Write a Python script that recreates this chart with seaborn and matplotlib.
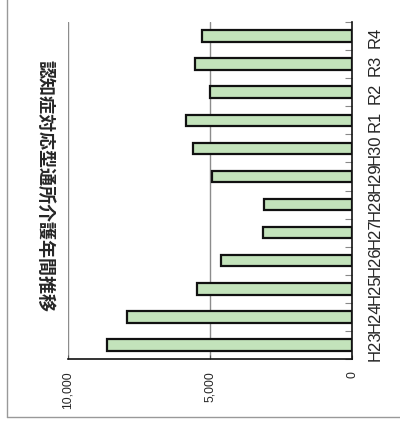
import matplotlib
matplotlib.use("Agg")
import matplotlib.pyplot as plt
import matplotlib.ticker as mticker
from matplotlib.lines import Line2D
import seaborn as sns
import pandas as pd

categories = ["H23", "H24", "H25", "H26", "H27", "H28", "H29", "H30", "R1", "R2", "R3", "R4"]
values = [8636, 7913, 5465, 4626, 3147, 3112, 4930, 5605, 5839, 4986, 5524, 5266]
value_ticks = [0, 5000, 10000]
title = "認知症対応型通所介護年間推移"

sns.set_theme(style="white")
plt.rcParams["font.family"] = ["Liberation Sans", "DejaVu Sans"]

df = pd.DataFrame({"year": categories, "count": values})

fig = plt.figure(figsize=(4.0, 4.27), dpi=100)
ax = fig.add_axes([68 / 400, 1 - 360 / 427, (352 - 68) / 400, (360 - 23) / 427])

sns.barplot(data=df, x="count", y="year", order=categories[::-1], orient="h",
            width=0.41, color="#c3e3bb", edgecolor="#111111", linewidth=1.6,
            saturation=1, ax=ax)

ax.set_xlim(10000, 0)
ax.set_ylim(len(categories) - 0.5, -0.5)
ax.set_xticks(value_ticks)
ax.xaxis.set_major_formatter(mticker.FuncFormatter(lambda v, p: f"{int(v):,}"))
ax.set_xlabel("")
ax.set_ylabel("")

# grid lines at 5,000 and 10,000
for v in value_ticks[1:]:
    ax.axvline(v, color="#8c8c8c", linewidth=1.0, zorder=0)

for s in ["left", "top"]:
    ax.spines[s].set_visible(False)
for s in ["right", "bottom"]:
    ax.spines[s].set_visible(True)
    ax.spines[s].set_color("#111111")
    ax.spines[s].set_linewidth(1.2)

ax.tick_params(axis="x", direction="in", length=3, width=0.8, color="#555555",
               labelsize=8.8, pad=8, labelrotation=90, bottom=True)
for lbl in ax.get_xticklabels():
    lbl.set_va("top")

# category labels on the right, boundary ticks pointing inward
ax.yaxis.tick_right()
ax.tick_params(axis="y", which="major", length=0, labelsize=12, pad=11,
               labelrotation=90, right=True, left=False)
for lbl in ax.get_yticklabels():
    lbl.set_va("center")
    lbl.set_ha("left")
ax.set_yticks([i - 0.5 for i in range(len(categories) + 1)], minor=True)
ax.tick_params(axis="y", which="minor", direction="in", length=5, width=0.8,
               color="#888888", right=True, left=False)

fig.text(45 / 400, 1 - 186 / 427, title, rotation=270, ha="center", va="center",
         fontsize=13, fontweight="bold", family=["Noto Sans CJK JP", "DejaVu Sans"])

# chart frame on the left and bottom
fig.add_artist(Line2D([6.5 / 400, 6.5 / 400], [1.0, 1 - 418 / 427],
                      transform=fig.transFigure, color="#999999", linewidth=1.0))
fig.add_artist(Line2D([6.5 / 400, 1.0], [1 - 418 / 427, 1 - 418 / 427],
                      transform=fig.transFigure, color="#999999", linewidth=1.0))

fig.savefig("out.png", dpi=100)
